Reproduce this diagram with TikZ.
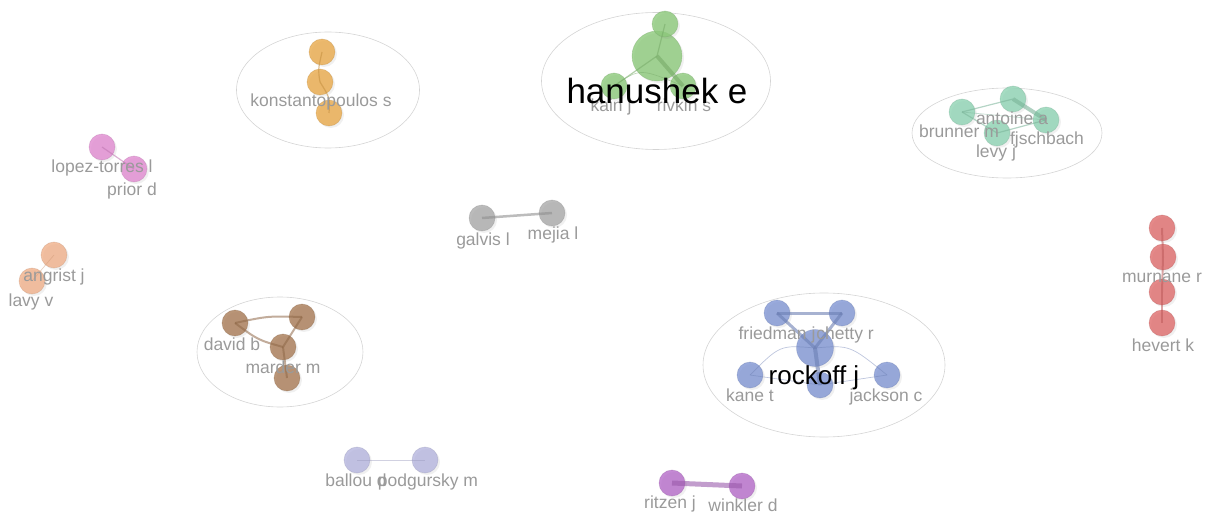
\documentclass[tikz,border=0pt]{standalone}
\usepackage{fontspec}
\setmainfont{Liberation Sans}
\usetikzlibrary{shapes.geometric,shadows}
\definecolor{cgreen}{HTML}{8CC97A}
\definecolor{corange}{HTML}{E8A94A}
\definecolor{cteal}{HTML}{8ED3B3}
\definecolor{cpink}{HTML}{E08AD0}
\definecolor{cpeach}{HTML}{F0B08A}
\definecolor{cgray}{HTML}{AAAAAA}
\definecolor{cbrown}{HTML}{A87A55}
\definecolor{cblue}{HTML}{7F95D3}
\definecolor{cred}{HTML}{DE6B6B}
\definecolor{clav}{HTML}{B5B5DE}
\definecolor{cpurple}{HTML}{B56BC9}
\definecolor{lblgray}{HTML}{9A9A9A}
\definecolor{ringgray}{HTML}{D4D4D4}
\tikzset{
  author/.style={circle, inner sep=0pt, minimum size=26pt, fill=#1, fill opacity=0.8,
    draw=#1!80!black, draw opacity=0.35, line width=0.6pt,
    drop shadow={opacity=0.12, shadow xshift=2pt, shadow yshift=-2pt}},
  link/.style={draw=#1!85!black, draw opacity=0.55, line width=1.2pt},
  thinlink/.style={draw=#1!85!black, draw opacity=0.45, line width=0.7pt},
  thicklink/.style={draw=#1!85!black, draw opacity=0.6, line width=4pt},
  lbl/.style={text=lblgray, font=\fontsize{17.5}{18}\selectfont, anchor=base, inner sep=0pt},
  biglbl/.style={text=black, anchor=base, inner sep=0pt},
  ring/.style={ellipse, draw=ringgray, line width=0.6pt, inner sep=0pt}
}
\begin{document}
\begin{tikzpicture}[x=1pt,y=-1pt]
\useasboundingbox (0,0) rectangle (1218,513);

% cluster outlines
\node[ring, minimum width=229pt, minimum height=137pt] (rgreen) at (656,81) {};
\node[ring, minimum width=183pt, minimum height=116pt] (rorange) at (328,90) {};
\node[ring, minimum width=190pt, minimum height=90pt] (rteal) at (1007,133) {};
\node[ring, minimum width=166pt, minimum height=110pt] (rbrown) at (280,352) {};
\node[ring, minimum width=242pt, minimum height=144pt] (rblue) at (824,365) {};

% authors
\node[author=cgreen, minimum size=50pt] (hanushek) at (657,56) {};
\node[author=cgreen] (gtop) at (665,24) {};
\node[author=cgreen] (kain) at (614,86) {};
\node[author=cgreen] (rivkin) at (683,86) {};

\node[author=corange] (ko1) at (322,52) {};
\node[author=corange] (ko2) at (320,82) {};
\node[author=corange] (ko3) at (329,113) {};

\node[author=cteal] (brunner) at (962,112) {};
\node[author=cteal] (antoine) at (1013,99) {};
\node[author=cteal] (fischbach) at (1046,120) {};
\node[author=cteal] (levy) at (997,133) {};

\node[author=cpink] (lopez) at (102,147) {};
\node[author=cpink] (prior) at (134,169) {};

\node[author=cpeach] (angrist) at (54,255) {};
\node[author=cpeach] (lavy) at (32,281) {};

\node[author=cgray] (galvis) at (482,218) {};
\node[author=cgray] (mejia) at (552,213) {};

\node[author=cbrown] (david) at (235,323) {};
\node[author=cbrown] (br2) at (302,317) {};
\node[author=cbrown] (marder) at (283,347) {};
\node[author=cbrown] (br4) at (287,378) {};

\node[author=cblue] (friedman) at (777,313) {};
\node[author=cblue] (chetty) at (842,313) {};
\node[author=cblue, minimum size=37pt] (rockoff) at (815,348) {};
\node[author=cblue] (kane) at (750,375) {};
\node[author=cblue] (bl6) at (820,385) {};
\node[author=cblue] (jackson) at (887,375) {};

\node[author=cred] (rd1) at (1162,228) {};
\node[author=cred] (murnane) at (1163,257) {};
\node[author=cred] (rd3) at (1162,292) {};
\node[author=cred] (hevert) at (1162,323) {};

\node[author=clav] (ballou) at (357,460) {};
\node[author=clav] (podgursky) at (425,460) {};

\node[author=cpurple] (ritzen) at (672,483) {};
\node[author=cpurple] (winkler) at (742,486) {};

% co-authorship links
\draw[link=cgreen] (hanushek.center) -- (gtop.center);
\draw[link=cgreen] (hanushek.center) -- (kain.center);
\draw[thicklink=cgreen] (hanushek.center) -- (rivkin.center);
\draw[thinlink=cgreen] (kain.center) .. controls (640,68) .. (rivkin.center);

\draw[link=corange] (ko1.center) .. controls (318,70) .. (ko2.center);
\draw[link=corange] (ko2.center) .. controls (330,98) .. (ko3.center);

\draw[link=cteal] (brunner.center) -- (antoine.center);
\draw[thicklink=cteal] (antoine.center) -- (fischbach.center);
\draw[link=cteal] (fischbach.center) -- (levy.center);
\draw[link=cteal] (levy.center) -- (brunner.center);
\draw[thinlink=cteal] (brunner.center) -- (fischbach.center);

\draw[link=cpink] (lopez.center) -- (prior.center);
\draw[thinlink=cpeach] (angrist.center) -- (lavy.center);
\draw[thicklink=cgray, line width=2.5pt] (galvis.center) -- (mejia.center);

\draw[link=cbrown, line width=2pt] (david.center) .. controls (268,316) .. (br2.center);
\draw[link=cbrown, line width=2pt] (david.center) .. controls (258,340) .. (marder.center);
\draw[link=cbrown, line width=2pt] (br2.center) -- (marder.center);
\draw[link=cbrown, line width=2pt] (marder.center) -- (br4.center);

\draw[thicklink=cblue, line width=3pt] (friedman.center) -- (chetty.center);
\draw[thicklink=cblue, line width=3pt] (friedman.center) -- (rockoff.center);
\draw[thicklink=cblue, line width=3pt] (chetty.center) -- (rockoff.center);
\draw[thicklink=cblue] (rockoff.center) -- (bl6.center);
\draw[thinlink=cblue] (kane.center) .. controls (780,345) .. (rockoff.center);
\draw[thinlink=cblue] (jackson.center) .. controls (850,345) .. (rockoff.center);
\draw[thinlink=cblue] (kane.center) -- (bl6.center);
\draw[thinlink=cblue] (jackson.center) -- (bl6.center);

\draw[link=cred, line width=2pt] (rd1.center) -- (murnane.center);
\draw[link=cred, line width=2pt] (murnane.center) -- (rd3.center);
\draw[link=cred, line width=2pt] (rd3.center) -- (hevert.center);

\draw[thinlink=clav] (ballou.center) -- (podgursky.center);
\draw[thicklink=cpurple, line width=5pt] (ritzen.center) -- (winkler.center);

% author names
\node[lbl] (tkain) at (611,112) {kain j};
\node[lbl] (trivkin) at (684,112) {rivkin s};
\node[biglbl, font=\fontsize{35}{37}\selectfont] (thanushek) at (657,104) {hanushek e};

\node[lbl] (tkonst) at (321,107) {konstantopoulos s};

\node[lbl] (tantoine) at (1012,125) {antoine a};
\node[lbl] (tbrunner) at (959,138) {brunner m};
\node[lbl] (tfisch) at (1047,145) {fjschbach};
\node[lbl] (tlevy) at (996,158) {levy j};

\node[lbl] (tlopez) at (102,173) {lopez-torres l};
\node[lbl] (tprior) at (132,196) {prior d};

\node[lbl] (tangrist) at (54,281) {angrist j};
\node[lbl] (tlavy) at (31,306) {lavy v};

\node[lbl] (tgalvis) at (483,245) {galvis l};
\node[lbl] (tmejia) at (553,240) {mejia l};

\node[lbl] (tdavid) at (232,350) {david b};
\node[lbl] (tmarder) at (283,373) {marder m};

\node[lbl] (tfriedman) at (777,339) {friedman j};
\node[lbl] (tchetty) at (845,339) {chetty r};
\node[lbl] (tkane) at (750,401) {kane t};
\node[lbl] (tjackson) at (886,401) {jackson c};
\node[biglbl, font=\fontsize{26}{28}\selectfont] (trockoff) at (814,384) {rockoff j};

\node[lbl] (tmurnane) at (1162,282) {murnane r};
\node[lbl] (thevert) at (1163,351) {hevert k};

\node[lbl] (tballou) at (356,486) {ballou d};
\node[lbl] (tpodgursky) at (428,486) {podgursky m};

\node[lbl] (tritzen) at (670,508) {ritzen j};
\node[lbl] (twinkler) at (743,511) {winkler d};
\end{tikzpicture}
\end{document}
